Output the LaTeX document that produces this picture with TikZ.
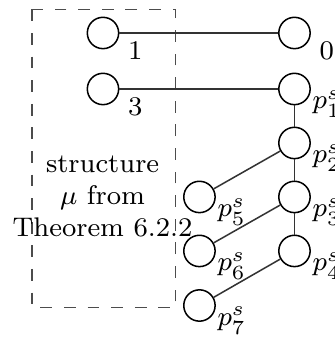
\documentclass[tikz,border=0pt]{standalone}
\begin{document}
\begin{tikzpicture}[every node/.style={font=\footnotesize}]
\tikzset{
  vtx/.style={draw,circle,minimum size=9.3pt,inner sep=0pt,line width=0.45pt},
  lnk/.style={black!80,line width=0.45pt},
  numlbl/.style={anchor=north west,inner sep=2.4pt},
  plbl/.style={anchor=north west,inner sep=0.3pt},
}
\useasboundingbox (0,0) rectangle (3.493,-3.525);
\draw[dash pattern=on 3.5pt off 3.5pt,black!70,line width=0.45pt] (0.334,-0.099) rectangle (1.832,-3.209);
\node[align=center] (mu) at (1.07,-2.05) {structure\\$\mu$ from\\Theorem 6.2.2};
\node[vtx] (v1) at (1.074,-0.344) {};
\node[vtx] (v3) at (1.074,-0.928) {};
\node[vtx] (v0) at (3.071,-0.344) {};
\node[vtx] (p1) at (3.071,-0.928) {};
\node[vtx] (p2) at (3.071,-1.491) {};
\node[vtx] (p3) at (3.071,-2.054) {};
\node[vtx] (p4) at (3.071,-2.617) {};
\node[vtx] (p5) at (2.080,-2.054) {};
\node[vtx] (p6) at (2.080,-2.617) {};
\node[vtx] (p7) at (2.080,-3.186) {};
\node[numlbl] (l1) at (v1.east) {1};
\node[numlbl] (l3) at (v3.east) {3};
\node[numlbl] (l0) at (v0.east) {0};
\foreach \i in {1,...,7}
  \node[plbl] (lp\i) at (p\i.east) {$p^s_\i$};
\foreach \a/\b in {v1/v0,v3/p1,p1/p2,p2/p3,p3/p4,p2/p5,p3/p6,p4/p7}
  \draw[lnk] (\a) -- (\b);
\end{tikzpicture}
\end{document}
